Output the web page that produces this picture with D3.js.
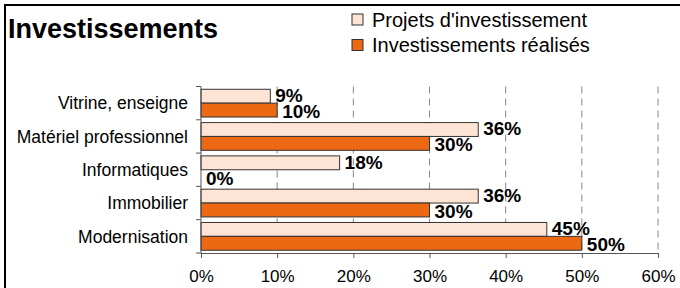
<!DOCTYPE html>
<html lang="fr">
<head>
<meta charset="UTF-8">
<title>Investissements</title>
<script src="https://d3js.org/d3.v7.min.js"></script>
<style>
    body { margin: 0; background: #fff; }
    svg text { font-family: "Liberation Sans", Arial, sans-serif; fill: #000; }
    .grid line { stroke: #888; stroke-dasharray: 7 5; }
    .axis path, .axis line { stroke: #555; }
</style>
</head>
<body>
<div id="chart"></div>
<script>
    var categories = ["Vitrine, enseigne", "Matériel professionnel", "Informatiques", "Immobilier", "Modernisation"];
    var projets = [9.1, 36.4, 18.2, 36.4, 45.4];
    var realises = [10, 30, 0, 30, 50];
    var seriesNames = ["Projets d'investissement", "Investissements réalisés"];
    var seriesColors = ["#fde4d4", "#ec6812"];
    var xTicks = [0, 10, 20, 30, 40, 50, 60];

    var width = 680, height = 288;
    var plot = {left: 201, right: 658, top: 86.5, bottom: 253};

    var svg = d3.select("#chart").append("svg")
        .attr("width", width)
        .attr("height", height);

    // frame
    svg.append("rect")
        .attr("x", 5).attr("y", 5)
        .attr("width", 700).attr("height", 300)
        .attr("fill", "none")
        .attr("stroke", "#000")
        .attr("stroke-width", 2);

    svg.append("text")
        .attr("x", 8).attr("y", 38)
        .style("font-size", "27px")
        .style("font-weight", "bold")
        .text("Investissements");

    // legend
    var legend = svg.selectAll("g.legend")
        .data(seriesNames)
        .enter().append("g")
        .attr("class", "legend")
        .attr("transform", function(d, i) { return "translate(352," + (14 + i * 25.5) + ")"; });

    legend.append("rect")
        .attr("width", 11).attr("height", 11)
        .attr("fill", function(d, i) { return seriesColors[i]; })
        .attr("stroke", "#333");

    legend.append("text")
        .attr("x", 20).attr("y", 12.5)
        .style("font-size", "20px")
        .text(function(d) { return d; });

    var x = d3.scaleLinear().domain([0, 60]).range([plot.left, plot.right]);
    var y = d3.scaleBand().domain(categories).range([plot.top, plot.bottom]);
    var yInner = d3.scaleBand().domain([0, 1]).range([0, y.bandwidth()]).paddingOuter(0.2);

    // gridlines
    svg.append("g").attr("class", "grid")
        .selectAll("line")
        .data(xTicks.slice(1))
        .enter().append("line")
        .attr("x1", function(d) { return x(d); })
        .attr("x2", function(d) { return x(d); })
        .attr("y1", plot.top)
        .attr("y2", plot.bottom);

    var series = [projets, realises];

    var groups = svg.selectAll("g.cat")
        .data(categories)
        .enter().append("g")
        .attr("class", "cat")
        .attr("transform", function(d) { return "translate(0," + y(d) + ")"; });

    groups.each(function(c, ci) {
        var g = d3.select(this);
        series.forEach(function(vals, si) {
            var v = vals[ci];
            if (v > 0) {
                g.append("rect")
                    .attr("x", x(0))
                    .attr("y", yInner(si))
                    .attr("width", x(v) - x(0))
                    .attr("height", yInner.bandwidth())
                    .attr("fill", seriesColors[si])
                    .attr("stroke", "#333")
                    .attr("stroke-width", 1);
            }
            g.append("text")
                .attr("x", x(v) + 5)
                .attr("y", yInner(si) + yInner.bandwidth() / 2 + (si === 0 ? -1 : 1))
                .attr("dy", "0.36em")
                .style("font-size", "19px")
                .style("font-weight", "bold")
                .text(Math.round(v) + "%");
        });
    });

    // bottom axis
    svg.append("g").attr("class", "axis")
        .attr("transform", "translate(0," + plot.bottom + ")")
        .call(d3.axisBottom(x).tickValues(xTicks).tickSize(5).tickSizeOuter(0)
            .tickFormat(function(d) { return d + "%"; }))
        .call(function(g) {
            g.selectAll("text").style("font-size", "17px").attr("dy", "1.25em").style("fill", "#000");
            g.select(".domain").attr("stroke", "#555");
        });

    // left axis
    var left = svg.append("g").attr("class", "axis");
    left.append("line")
        .attr("x1", plot.left).attr("x2", plot.left)
        .attr("y1", plot.top).attr("y2", plot.bottom);
    left.selectAll("line.tick")
        .data(categories.map(function(c) { return y(c); }).concat([plot.bottom]))
        .enter().append("line")
        .attr("class", "tick")
        .attr("x1", plot.left - 5).attr("x2", plot.left)
        .attr("y1", function(d) { return d; })
        .attr("y2", function(d) { return d; });
    left.selectAll("text")
        .data(categories)
        .enter().append("text")
        .attr("x", plot.left - 13)
        .attr("y", function(d) { return y(d) + y.bandwidth() / 2; })
        .attr("dy", "0.36em")
        .attr("text-anchor", "end")
        .style("font-size", "17.5px")
        .text(function(d) { return d; });
</script>
</body>
</html>
